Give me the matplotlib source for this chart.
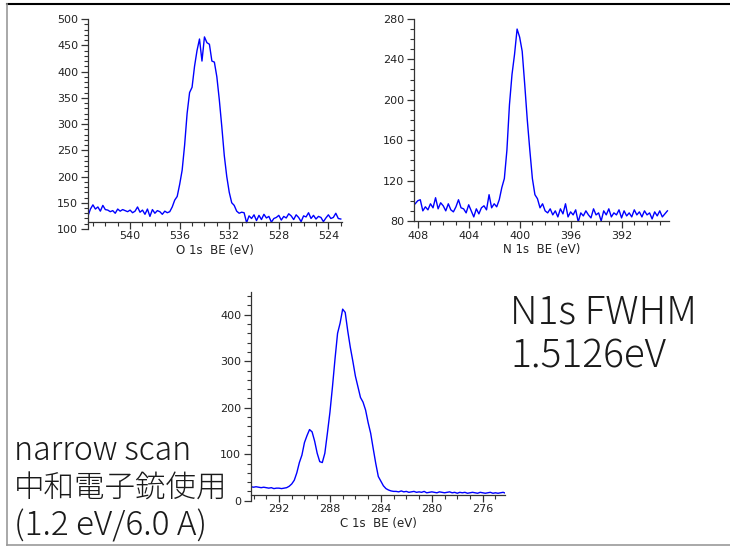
import numpy as np
import matplotlib
matplotlib.use("Agg")
import matplotlib.pyplot as plt
from matplotlib.ticker import MultipleLocator
from matplotlib.lines import Line2D

plt.rcParams['font.family'] = ['DejaVu Sans', 'Noto Sans CJK JP']

# O 1s narrow scan, 0.2 eV steps starting at 543.4 eV (descending BE)
o1s_start = 543.4
o1s_step = 0.2
o1s_counts = [125, 138, 146, 138, 142, 134, 145, 137, 136, 133,
              135, 130, 138, 134, 137, 135, 133, 136, 131, 134,
              142, 132, 136, 128, 138, 124, 137, 130, 135, 133,
              128, 134, 131, 133, 142, 155, 162, 185, 212, 260,
              320, 360, 370, 410, 440, 462, 420, 466, 455, 452,
              420, 418, 390, 346, 295, 240, 200, 170, 150, 145,
              134, 130, 132, 131, 112, 125, 120, 127, 116, 126,
              118, 128, 121, 124, 113, 120, 122, 126, 117, 124,
              121, 129, 125, 118, 127, 122, 114, 125, 123, 131,
              120, 126, 119, 124, 122, 114, 121, 127, 120, 122,
              130, 120, 119]

# N 1s narrow scan, 0.2 eV steps starting at 408.2 eV
n1s_start = 408.2
n1s_step = 0.2
n1s_counts = [97, 100, 101, 90, 94, 91, 97, 93, 103, 92,
              98, 95, 90, 97, 91, 89, 94, 101, 93, 92,
              88, 96, 90, 84, 92, 87, 93, 95, 91, 106,
              93, 97, 94, 101, 113, 122, 150, 195, 225, 245,
              270, 262, 248, 215, 180, 150, 122, 106, 102, 93,
              97, 90, 88, 92, 86, 90, 84, 92, 87, 97,
              84, 89, 86, 91, 79, 88, 85, 90, 86, 83,
              92, 86, 88, 80, 90, 86, 92, 84, 88, 86,
              91, 83, 90, 85, 88, 84, 91, 86, 89, 84,
              90, 86, 88, 82, 89, 85, 90, 84, 87, 90]

# C 1s narrow scan, 0.2 eV steps starting at 294.2 eV
c1s_start = 294.2
c1s_step = 0.2
c1s_counts = [30, 29, 30, 29, 28, 29, 28, 27, 28, 26,
              27, 27, 26, 27, 28, 31, 36, 44, 60, 82,
              98, 125, 140, 153, 148, 128, 102, 84, 82, 102,
              145, 190, 245, 305, 360, 382, 412, 405, 365, 330,
              300, 268, 245, 222, 212, 195, 168, 145, 112, 80,
              52, 42, 32, 26, 23, 21, 20, 20, 19, 21,
              19, 20, 18, 19, 20, 18, 19, 18, 20, 17,
              18, 19, 18, 17, 19, 18, 17, 18, 19, 17,
              18, 16, 18, 17, 18, 16, 17, 18, 17, 16,
              18, 17, 16, 17, 18, 16, 17, 16, 17, 18, 16]


def energies(start, step, counts):
    return start - step * np.arange(len(counts))


def style_axis(ax, xlim, ylim, xbot, ymaj, ymin, xlabel):
    ax.set_xlim(*xlim)
    ax.set_ylim(*ylim)
    for s in ('top', 'right'):
        ax.spines[s].set_visible(False)
    ax.spines['bottom'].set_position(('data', xbot))
    for s in ('left', 'bottom'):
        ax.spines[s].set_color('#333333')
        ax.spines[s].set_linewidth(0.9)
    ax.xaxis.set_major_locator(MultipleLocator(4))
    ax.xaxis.set_minor_locator(MultipleLocator(1))
    ax.yaxis.set_major_locator(MultipleLocator(ymaj))
    ax.yaxis.set_minor_locator(MultipleLocator(ymin))
    ax.tick_params(which='major', length=5, width=0.9, color='#333333',
                   labelsize=8, labelcolor='#222222', pad=2)
    ax.tick_params(which='minor', length=3, width=0.8, color='#333333')
    ax.set_xlabel(xlabel, fontsize=8.5, color='#222222', labelpad=2)
    ax.patch.set_alpha(0)


fig = plt.figure(figsize=(7.3, 5.51), dpi=100)

ax1 = fig.add_axes([0.1205, 0.5844, 0.348, 0.381])
ax1.plot(energies(o1s_start, o1s_step, o1s_counts), o1s_counts,
         color='#0000ff', lw=1.0)
style_axis(ax1, (543.4, 522.9), (100, 500), 114, 50, 10, 'O 1s  BE (eV)')

ax2 = fig.add_axes([0.567, 0.599, 0.349, 0.3666])
ax2.plot(energies(n1s_start, n1s_step, n1s_counts), n1s_counts,
         color='#0000ff', lw=1.0)
style_axis(ax2, (408.3, 388.3), (80, 280), 80, 40, 10, 'N 1s  BE (eV)')

ax3 = fig.add_axes([0.3438, 0.0913, 0.348, 0.378])
ax3.plot(energies(c1s_start, c1s_step, c1s_counts), c1s_counts,
         color='#0000ff', lw=1.0)
style_axis(ax3, (294.2, 274.25), (0, 448), 13, 100, 20, 'C 1s  BE (eV)')

big = ['Noto Sans CJK JP', 'DejaVu Sans']
fig.text(510 / 730, 1 - 323 / 551, 'N1s FWHM', fontsize=28,
         family=big, weight='light', color='#1a1a1a')
fig.text(510 / 730, 1 - 368 / 551, '1.5126eV', fontsize=28,
         family=big, weight='light', color='#1a1a1a')

fig.text(14 / 730, 1 - 460 / 551, 'narrow scan', fontsize=23,
         family=big, weight='light', color='#1a1a1a')
fig.text(14 / 730, 1 - 498 / 551, '中和電子銃使用', fontsize=22,
         family=big, weight='light', color='#1a1a1a')
fig.text(14 / 730, 1 - 535 / 551, '(1.2 eV/6.0 A)', fontsize=24,
         family=big, weight='light', color='#1a1a1a')

# slide frame
fig.add_artist(Line2D([7 / 730, 1], [1 - 4 / 551, 1 - 4 / 551],
                      transform=fig.transFigure, color='black', lw=1.5))
fig.add_artist(Line2D([7 / 730, 7 / 730], [1 - 4 / 551, 1 - 545 / 551],
                      transform=fig.transFigure, color='#999999', lw=1.2))
fig.add_artist(Line2D([7 / 730, 1], [1 - 545 / 551, 1 - 545 / 551],
                      transform=fig.transFigure, color='#999999', lw=1.2))

fig.savefig('out.png', dpi=100)
